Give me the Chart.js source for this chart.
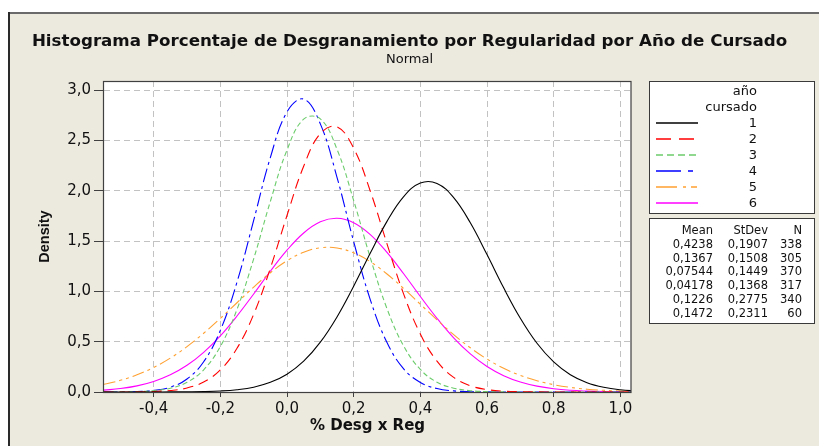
<!DOCTYPE html>
<html><head><meta charset="utf-8">
<script src="https://cdn.jsdelivr.net/npm/chart.js@4.4.1/dist/chart.umd.min.js"></script>
<style>
html,body{margin:0;padding:0;background:#fff;}
#wrap{position:relative;width:819px;height:446px;overflow:hidden;}
#c{position:absolute;left:0;top:0;}
.box{position:absolute;background:#fff;border:1px solid #3a3a3a;box-sizing:border-box;}
.t{position:absolute;font-family:"DejaVu Sans",sans-serif;color:#111;white-space:nowrap;text-align:right;}
svg.ln{position:absolute;overflow:visible;}
</style></head><body>
<div id="wrap"><canvas id="c" width="819" height="446"></canvas></div>
<script>
// ---- data ----
const xValues = [-0.55,-0.50,-0.45,-0.40,-0.35,-0.30,-0.25,-0.20,-0.15,-0.10,-0.05,0.00,0.05,0.10,0.15,0.20,0.25,0.30,0.35,0.40,0.45,0.50,0.55,0.60,0.65,0.70,0.75,0.80,0.85,0.90,0.95,1.00,1.05];
const dens1 = [0.000,0.000,0.000,0.000,0.001,0.002,0.004,0.010,0.023,0.048,0.096,0.177,0.306,0.495,0.746,1.051,1.381,1.695,1.941,2.076,2.072,1.931,1.681,1.365,1.035,0.733,0.484,0.299,0.172,0.093,0.047,0.022,0.010];
const dens2 = [0.000,0.000,0.001,0.005,0.015,0.040,0.099,0.219,0.434,0.772,1.229,1.754,2.243,2.568,2.635,2.422,1.995,1.472,0.973,0.576,0.306,0.145,0.062,0.024,0.008,0.003,0.001,0.000,0.000,0.000,0.000,0.000,0.000];
const dens3 = [0.000,0.001,0.004,0.013,0.037,0.096,0.221,0.452,0.821,1.323,1.893,2.404,2.711,2.714,2.412,1.903,1.333,0.828,0.457,0.224,0.097,0.038,0.013,0.004,0.001,0.000,0.000,0.000,0.000,0.000,0.000,0.000,0.000];
const dens4 = [0.000,0.001,0.005,0.016,0.048,0.129,0.300,0.612,1.092,1.705,2.329,2.783,2.911,2.664,2.133,1.494,0.916,0.491,0.230,0.095,0.034,0.011,0.003,0.001,0.000,0.000,0.000,0.000,0.000,0.000,0.000,0.000,0.000];
const dens5 = [0.076,0.116,0.171,0.244,0.337,0.451,0.584,0.731,0.887,1.042,1.185,1.304,1.389,1.433,1.431,1.383,1.294,1.172,1.028,0.872,0.717,0.570,0.439,0.327,0.236,0.165,0.112,0.073,0.046,0.028,0.017,0.010,0.005];
const dens6 = [0.018,0.034,0.061,0.105,0.171,0.265,0.394,0.558,0.755,0.974,1.200,1.409,1.580,1.691,1.726,1.682,1.564,1.387,1.175,0.949,0.732,0.538,0.378,0.253,0.162,0.099,0.058,0.032,0.017,0.009,0.004,0.002,0.001];
const seriesNames = ['1','2','3','4','5','6'];
const means = [0.4238,0.1367,0.07544,0.04178,0.1226,0.1472];
const stdevs = [0.1907,0.1508,0.1449,0.1368,0.2775,0.2311];
const counts = [338,305,370,317,340,60];
const xTickValues = [-0.4,-0.2,0.0,0.2,0.4,0.6,0.8,1.0];
const yTickValues = [0.0,0.5,1.0,1.5,2.0,2.5,3.0];
const titleText = 'Histograma Porcentaje de Desgranamiento por Regularidad por Año de Cursado';
const subtitleText = 'Normal';
const xTitle = '% Desg x Reg';
const yTitle = 'Density';
const legendTitle = ['año','cursado'];
const statHeaders = ['Mean','StDev','N'];

// ---- styles ----
const colors = ['#000000','#ff0000','#6ccc6c','#0000ff','#ffa030','#ff00ff'];
const dashes = [[],[10,6],[5,3],[14,4,3,4],[12,4,3,4,3,4],[]];
const legendDash = ['', '15 8', '7 4', '25 7 5 7', '21 6 3 5 6 5', ''];
const allDens = [dens1,dens2,dens3,dens4,dens5,dens6];
const fmt = v => (Math.abs(v) < 1e-9 ? 0 : v).toFixed(1).replace('.', ',');

const bgPlugin = {
  id: 'bg',
  beforeDraw(chart) {
    const ctx = chart.ctx, a = chart.chartArea;
    ctx.save();
    ctx.fillStyle = '#ffffff'; ctx.fillRect(0,0,819,446);
    ctx.fillStyle = '#ece9df'; ctx.fillRect(9,13,810,433);
    ctx.fillStyle = '#6a6a6a'; ctx.fillRect(8,12,811,2);
    ctx.fillStyle = '#2a2a2a'; ctx.fillRect(8,12,2,434);
    ctx.fillStyle = '#ffffff'; ctx.fillRect(a.left,a.top,a.right-a.left,a.bottom-a.top);
    ctx.restore();
  },
  afterDraw(chart) {
    const ctx = chart.ctx, a = chart.chartArea;
    ctx.save();
    ctx.strokeStyle = '#404040'; ctx.lineWidth = 1.2;
    ctx.strokeRect(a.left-0.5, a.top+0.5, a.right-a.left+0.5, a.bottom-a.top);
    ctx.restore();
  }
};

const datasets = allDens.map((d, k) => ({
  label: seriesNames[k],
  data: xValues.map((x, i) => ({x: x, y: d[i]})),
  borderColor: colors[k],
  borderWidth: 1.1,
  borderDash: dashes[k],
  pointRadius: 0,
  tension: 0.4,
  fill: false
}));

new Chart(document.getElementById('c'), {
  type: 'line',
  data: { datasets },
  options: {
    responsive: false,
    animation: false,
    layout: { padding: 0 },
    plugins: {
      legend: { display: false },
      tooltip: { enabled: false },
      title: { display: true, text: titleText, color: '#111',
        font: { family: 'DejaVu Sans', size: 16.7, weight: 'bold', lineHeight: 1.2 },
        padding: { top: 31.98, bottom: 0 } },
      subtitle: { display: true, text: subtitleText, color: '#111',
        font: { family: 'DejaVu Sans', size: 13, weight: 'normal', lineHeight: 1.2 },
        padding: { top: 0.18, bottom: 13.2 } }
    },
    scales: {
      x: {
        type: 'linear', min: -0.549, max: 1.032,
        afterBuildTicks: s => { s.ticks = xTickValues.map(v => ({value: v})); },
        afterFit: s => { s.height = 54; },
        ticks: { callback: v => fmt(v), autoSkip: false, maxRotation: 0, padding: 3,
          color: '#111', font: { family: 'DejaVu Sans', size: 15 } },
        grid: { color: '#c2c2c2', lineWidth: 1, drawTicks: true, tickLength: 5,
          tickColor: '#404040', tickBorderDash: [] },
        border: { display: false, dash: [6,4] },
        title: { display: true, text: xTitle, color: '#111',
          font: { family: 'DejaVu Sans', size: 15, weight: 'bold', lineHeight: 1.2 },
          padding: { top: 0, bottom: 10.6 } }
      },
      y: {
        type: 'linear', min: 0, max: 3.09, position: 'left',
        afterBuildTicks: s => { s.ticks = yTickValues.map(v => ({value: v})); },
        afterFit: s => { s.width = 104; },
        ticks: { callback: v => fmt(v), padding: 3, color: '#111',
          font: { family: 'DejaVu Sans', size: 15 } },
        grid: { color: '#c2c2c2', lineWidth: 1, drawTicks: true, tickLength: 10,
          tickColor: '#404040', tickBorderDash: [] },
        border: { display: false, dash: [6,4] },
        title: { display: true, text: yTitle, color: '#111',
          font: { family: 'Liberation Sans', size: 14.5, weight: 'bold', lineHeight: 1.2 },
          padding: { top: 36.3, bottom: 0 } }
      },
      spacer: {
        type: 'linear', position: 'right', display: true, min: 0, max: 1,
        afterFit: s => { s.width = 188; },
        ticks: { display: false }, grid: { display: false }, border: { display: false }
      }
    }
  },
  plugins: [bgPlugin]
});

// ---- legend boxes (HTML text) ----
const wrap = document.getElementById('wrap');
function box(l, t, w, h) {
  const d = document.createElement('div'); d.className = 'box';
  d.style.left = l + 'px'; d.style.top = t + 'px'; d.style.width = w + 'px'; d.style.height = h + 'px';
  wrap.appendChild(d);
}
function txt(s, right, cy, size, lh) {
  const d = document.createElement('div'); d.className = 't';
  d.textContent = s;
  d.style.width = '120px';
  d.style.left = (right - 120) + 'px';
  d.style.top = (cy - lh / 2) + 'px';
  d.style.fontSize = size + 'px';
  d.style.lineHeight = lh + 'px';
  wrap.appendChild(d);
}
box(649, 81, 166, 133);
txt(legendTitle[0], 757, 91, 13, 16);
txt(legendTitle[1], 757, 107, 13, 16);
const NS = 'http://www.w3.org/2000/svg';
seriesNames.forEach((n, k) => {
  const cy = 123 + 16 * k;
  txt(n, 757, cy, 13, 16);
  const svg = document.createElementNS(NS, 'svg');
  svg.setAttribute('class', 'ln');
  svg.setAttribute('width', '44'); svg.setAttribute('height', '4');
  svg.style.left = '656px'; svg.style.top = (cy - 2) + 'px';
  const ln = document.createElementNS(NS, 'line');
  ln.setAttribute('x1', '0'); ln.setAttribute('x2', '42');
  ln.setAttribute('y1', '2'); ln.setAttribute('y2', '2');
  ln.setAttribute('stroke', colors[k]); ln.setAttribute('stroke-width', '1.3');
  if (legendDash[k]) ln.setAttribute('stroke-dasharray', legendDash[k]);
  svg.appendChild(ln); wrap.appendChild(svg);
});
box(649, 218, 166, 106);
const colRight = [713, 768, 802];
statHeaders.forEach((h, j) => txt(h, colRight[j], 230, 11.5, 14));
means.forEach((m, k) => {
  const cy = 243.8 + 13.8 * k;
  txt(String(m).replace('.', ','), colRight[0], cy, 11.5, 14);
  txt(String(stdevs[k]).replace('.', ','), colRight[1], cy, 11.5, 14);
  txt(String(counts[k]), colRight[2], cy, 11.5, 14);
});
</script>
</body></html>
